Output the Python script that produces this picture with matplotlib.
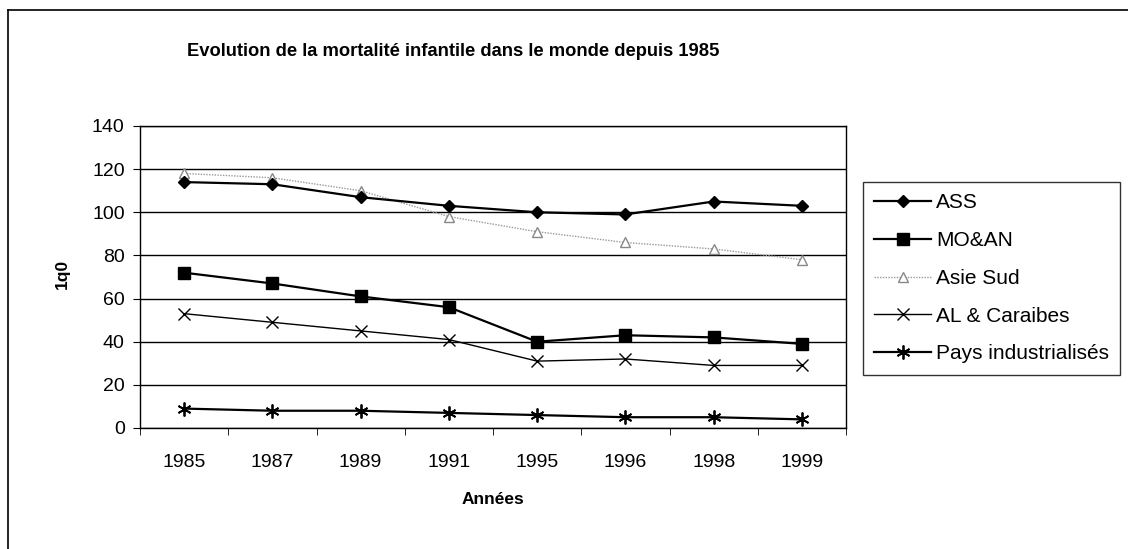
import matplotlib
matplotlib.use("Agg")
import matplotlib.pyplot as plt

years = ["1985", "1987", "1989", "1991", "1995", "1996", "1998", "1999"]
ass = [114, 113, 107, 103, 100, 99, 105, 103]
mo_an = [72, 67, 61, 56, 40, 43, 42, 39]
asie_sud = [118, 116, 110, 98, 91, 86, 83, 78]
al_caraibes = [53, 49, 45, 41, 31, 32, 29, 29]
pays_ind = [9, 8, 8, 7, 6, 5, 5, 4]
yticks = [0, 20, 40, 60, 80, 100, 120, 140]

plt.rcParams['font.family'] = ['Liberation Sans', 'DejaVu Sans']

fig = plt.figure(figsize=(11.28, 5.49), dpi=100)
W, H = 1128, 549
ax = fig.add_axes([140 / W, 1 - 428 / H, (846 - 140) / W, (428 - 126) / H])

x = list(range(len(years)))
ax.plot(x, ass, color='black', lw=1.6, marker='D', ms=6, mfc='black', label='ASS', zorder=4)
ax.plot(x, mo_an, color='black', lw=1.6, marker='s', ms=8, mfc='black', label='MO&AN', zorder=4)
ax.plot(x, asie_sud, color='#999999', lw=1.0, ls=(0, (1, 1)), marker='^', ms=7, mfc='white', mec='#888888', label='Asie Sud', zorder=3)
ax.plot(x, al_caraibes, color='black', lw=1.0, marker='x', ms=9, mew=1.0, label='AL & Caraibes', zorder=4)
ax.plot(x, pays_ind, color='black', lw=1.6, marker=(6, 2, 0), ms=10, mew=1.3, label='Pays industrialisés', zorder=4)

ax.set_xlim(-0.5, len(years) - 0.5)
ax.set_ylim(0, 140)
ax.set_yticks(yticks)
ax.set_yticklabels([str(v) for v in yticks], fontsize=14)
ax.set_xticks(x)
ax.set_xticklabels(years, fontsize=14)
ax.set_xticks([i - 0.5 for i in range(len(years) + 1)], minor=True)
ax.tick_params(axis='x', which='major', length=0, pad=19)
ax.tick_params(axis='x', which='minor', length=5, direction='out', color='black')
ax.tick_params(axis='y', length=5, direction='out', pad=6)
ax.grid(axis='y', color='black', lw=1.0)
ax.set_axisbelow(True)
for s in ax.spines.values():
    s.set_color('black')
    s.set_linewidth(1.0)

fig.text(62 / W, 1 - 274 / H, '1q0', rotation=90, fontsize=12.5, fontweight='bold', ha='center', va='center')
fig.text(493 / W, 1 - 500 / H, 'Années', fontsize=12.5, fontweight='bold', ha='center', va='center')
fig.text(187 / W, 1 - 52 / H, 'Evolution de la mortalité infantile dans le monde depuis 1985',
         fontsize=13.2, fontweight='bold', ha='left', va='center')

leg = fig.legend(loc='upper left', bbox_to_anchor=(863 / W, 1 - 182 / H), fontsize=15,
                 frameon=True, fancybox=False, edgecolor='black', handlelength=2.7,
                 labelspacing=0.9, borderpad=0.55, handletextpad=0.25, borderaxespad=0)
leg.get_frame().set_linewidth(1.0)

# outer frame (left and top)
fig.add_artist(plt.Line2D([8 / W, 8 / W], [0, 1 - 10 / H], color='black', lw=1.2, transform=fig.transFigure))
fig.add_artist(plt.Line2D([8 / W, 1], [1 - 10 / H, 1 - 10 / H], color='black', lw=1.2, transform=fig.transFigure))

fig.savefig('out.png', dpi=100)
